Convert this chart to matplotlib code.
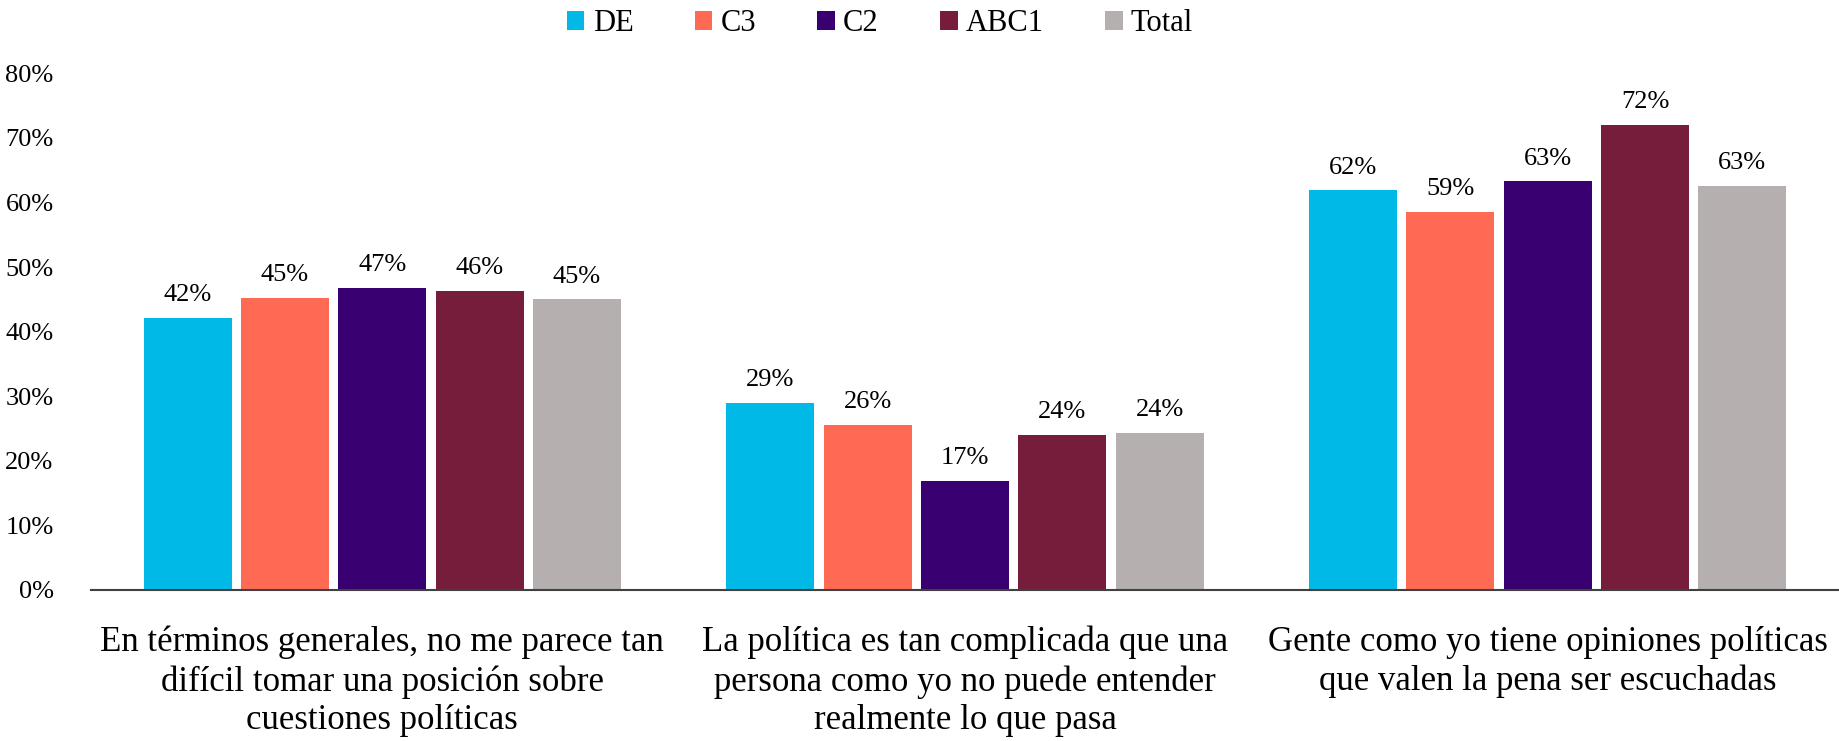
import matplotlib
matplotlib.use('Agg')
import matplotlib.pyplot as plt
import numpy as np
from matplotlib.ticker import PercentFormatter

plt.rcParams['font.family'] = ['Liberation Serif', 'DejaVu Serif']

categories = [
    "En términos generales, no me parece tan\ndifícil tomar una posición sobre\ncuestiones políticas",
    "La política es tan complicada que una\npersona como yo no puede entender\nrealmente lo que pasa",
    "Gente como yo tiene opiniones políticas\nque valen la pena ser escuchadas",
]
series = ["DE", "C3", "C2", "ABC1", "Total"]
DE = [0.421, 0.290, 0.619]
C3 = [0.452, 0.256, 0.586]
C2 = [0.468, 0.169, 0.633]
ABC1 = [0.463, 0.240, 0.720]
Total = [0.450, 0.243, 0.626]
values = [DE, C3, C2, ABC1, Total]
colors = ["#00B9E6", "#FF6A55", "#380070", "#761D3B", "#B5AFAF"]

fig = plt.figure(figsize=(18.39, 7.41), dpi=100)
ax = fig.add_axes([0.0495, 0.204, 0.9505, 0.697])

x = np.arange(len(categories))
step = 0.167
width = 0.151
for i, (name, vals, col) in enumerate(zip(series, values, colors)):
    pos = x + (i - 2) * step
    bars = ax.bar(pos, vals, width, color=col, label=name)
    for b, v in zip(bars, vals):
        ax.text(b.get_x() + b.get_width() / 2, v + 0.018, f"{round(v * 100):.0f}%",
                ha='center', va='bottom', fontsize=19)

ax.set_xlim(-0.5, 2.5)
ax.set_ylim(0, 0.8)
ax.set_yticks(np.arange(0, 0.81, 0.1))
ax.yaxis.set_major_formatter(PercentFormatter(1.0, decimals=0))
ax.tick_params(axis='y', length=0, pad=27, labelsize=19)
ax.set_xticks(x)
ax.set_xticklabels(categories, fontsize=25, linespacing=1.22)
ax.tick_params(axis='x', length=0, pad=26)
for s in ['top', 'right', 'left']:
    ax.spines[s].set_visible(False)
ax.spines['bottom'].set_color('#404040')
ax.spines['bottom'].set_linewidth(1.5)

fig.legend(loc='center', bbox_to_anchor=(0.4785, 0.968), ncol=5, frameon=False,
           fontsize=22, handlelength=0.58, handleheight=0.58, handletextpad=0.27,
           columnspacing=2.0)

fig.savefig("out.png", dpi=100)
